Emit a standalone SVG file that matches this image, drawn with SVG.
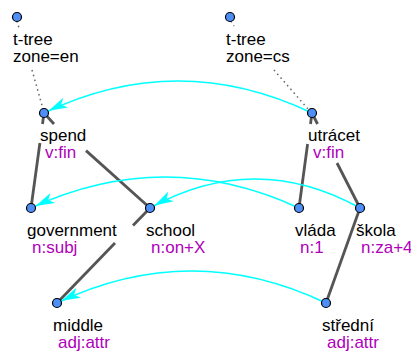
<svg xmlns="http://www.w3.org/2000/svg" width="411" height="351" viewBox="0 0 411 351">
  <style>
    text { font-family: "Liberation Sans", Arial, sans-serif; font-size: 17px; }
    .lemma { fill: #000000; }
    .func { fill: #b000bb; }
    .edge { stroke: #555555; stroke-width: 2.8; fill: none; stroke-linecap: butt; }
    .root-link { stroke: #666666; stroke-width: 1.5; fill: none; stroke-dasharray: 1.5 3.5; }
    .align { stroke: #00ffff; stroke-width: 1.6; fill: none; marker-end: url(#arrow); }
    .node { fill: #4d8ef7; stroke: #000000; stroke-width: 1.2; }
  </style>
  <defs>
    <marker id="arrow" markerUnits="userSpaceOnUse" orient="auto" refX="5" refY="0" markerWidth="30" markerHeight="30" overflow="visible">
      <path d="M0,0 L-19,-5.5 L-14,0 L-19,5.5 Z" fill="#00ffff"/>
    </marker>
  </defs>

  <!-- tree edges, dotted root links and alignment arcs -->
  <g id="connectors">
    <!-- dotted links from tree roots -->
    <line class="root-link" x1="17" y1="21" x2="19" y2="28"/>
    <line class="root-link" x1="32" y1="70" x2="43" y2="109"/>
    <line class="root-link" x1="231" y1="21" x2="234" y2="26"/>
    <line class="root-link" x1="274" y1="70" x2="308" y2="109"/>

    <!-- spend -> government -->
    <line class="edge" x1="44" y1="113" x2="42.5" y2="124"/>
    <line class="edge" x1="39.9" y1="143" x2="31" y2="208"/>
    <!-- spend -> school -->
    <line class="edge" x1="44" y1="113" x2="54" y2="124"/>
    <line class="edge" x1="86" y1="150.6" x2="150" y2="208"/>
    <!-- utrácet -> vláda -->
    <line class="edge" x1="312" y1="113" x2="310.5" y2="124"/>
    <line class="edge" x1="307.6" y1="144" x2="299" y2="208"/>
    <!-- utrácet -> škola -->
    <line class="edge" x1="312" y1="113" x2="317.5" y2="124"/>
    <line class="edge" x1="337" y1="163" x2="360" y2="208"/>
    <!-- school -> middle -->
    <line class="edge" x1="150" y1="208" x2="133" y2="225.4"/>
    <line class="edge" x1="115" y1="243" x2="57" y2="303"/>
    <!-- škola -> střední -->
    <line class="edge" x1="360" y1="208" x2="326" y2="303"/>

    <!-- alignment arcs -->
    <path class="align" d="M312,113 Q178,49 44,113"/>
    <path class="align" d="M299,208 Q165,146 31,208"/>
    <path class="align" d="M360,208 Q255,150 150,208"/>
    <path class="align" d="M326,303 Q191.5,239 57,303"/>
  </g>

  <g id="root-en">
    <circle class="node" cx="17" cy="17" r="4.5"/>
    <text class="lemma" x="13" y="45">t-tree</text>
    <text class="lemma" x="13" y="62">zone=en</text>
  </g>
  <g id="root-cs">
    <circle class="node" cx="230" cy="17" r="4.5"/>
    <text class="lemma" x="226" y="45">t-tree</text>
    <text class="lemma" x="226" y="62">zone=cs</text>
  </g>
  <g id="spend">
    <circle class="node" cx="44" cy="113" r="4.5"/>
    <text class="lemma" x="40" y="141">spend</text>
    <text class="func" x="45" y="158">v:fin</text>
  </g>
  <g id="utracet">
    <circle class="node" cx="312" cy="113" r="4.5"/>
    <text class="lemma" x="308" y="141">utrácet</text>
    <text class="func" x="313" y="158">v:fin</text>
  </g>
  <g id="government">
    <circle class="node" cx="31" cy="208" r="4.5"/>
    <text class="lemma" x="27" y="236">government</text>
    <text class="func" x="32" y="253">n:subj</text>
  </g>
  <g id="school">
    <circle class="node" cx="150" cy="208" r="4.5"/>
    <text class="lemma" x="146" y="236">school</text>
    <text class="func" x="151" y="253">n:on+X</text>
  </g>
  <g id="vlada">
    <circle class="node" cx="299" cy="208" r="4.5"/>
    <text class="lemma" x="295" y="236">vláda</text>
    <text class="func" x="300" y="253">n:1</text>
  </g>
  <g id="skola">
    <circle class="node" cx="360" cy="208" r="4.5"/>
    <text class="lemma" x="356" y="236">škola</text>
    <text class="func" x="361" y="253">n:za+4</text>
  </g>
  <g id="middle">
    <circle class="node" cx="57" cy="303" r="4.5"/>
    <text class="lemma" x="53" y="331">middle</text>
    <text class="func" x="58" y="348">adj:attr</text>
  </g>
  <g id="stredni">
    <circle class="node" cx="326" cy="303" r="4.5"/>
    <text class="lemma" x="322" y="331">střední</text>
    <text class="func" x="327" y="348">adj:attr</text>
  </g>
</svg>
